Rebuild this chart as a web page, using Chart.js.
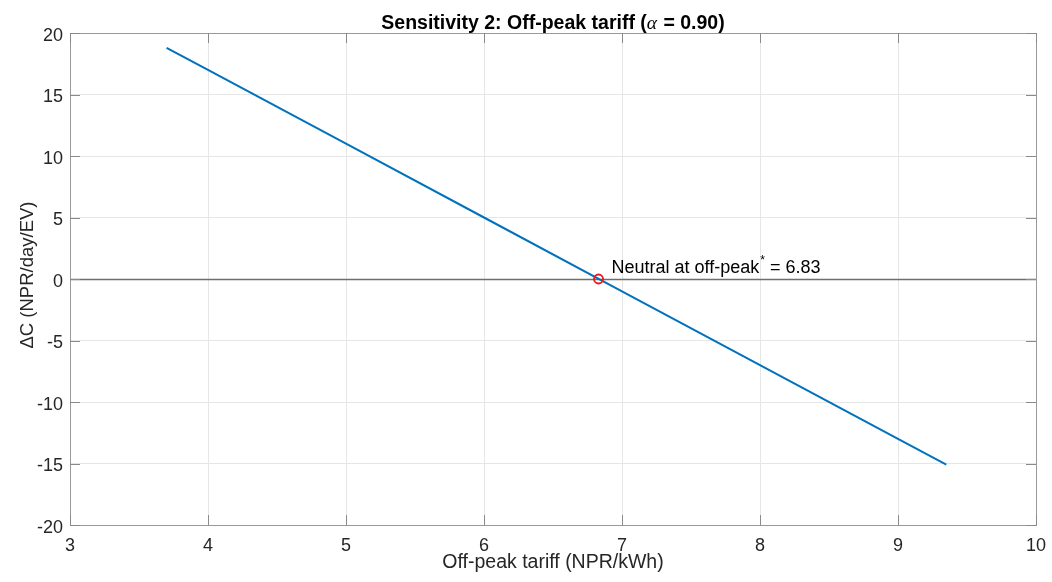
<!DOCTYPE html>
<html><head><meta charset="utf-8">
<script src="https://cdn.jsdelivr.net/npm/chart.js@4"></script>
<style>html,body{margin:0;padding:0;background:#fff;}#wrap{width:1052px;height:582px;}</style>
</head><body><div id="wrap"><canvas id="c" width="1052" height="582"></canvas></div>
<script>
const tariff = [3.7, 4, 5, 6, 7, 8, 9, 9.35];
const deltaC = [18.8, 17.0, 11.0, 5.0, -1.0, -7.0, -13.0, -15.1];
const neutralX = [6.83];
const neutralY = [0];
const xTicks = [3, 4, 5, 6, 7, 8, 9, 10];
const yTicks = [-20, -15, -10, -5, 0, 5, 10, 15, 20];
const titleParts = ['Sensitivity 2: Off-peak tariff (', '\u03b1', ' = 0.90)'];
const xLabel = 'Off-peak tariff (NPR/kWh)';
const yLabel = '\u0394C (NPR/day/EV)';
const annoParts = ['Neutral at off-peak', '*', ' = 6.83'];
const FONT = '"Liberation Sans", Arial, sans-serif';

const deco = {
  id: 'deco',
  beforeDatasetsDraw(chart) {
    const {ctx, chartArea: a, scales: {x, y}} = chart;
    ctx.save();
    ctx.strokeStyle = '#6e6e6e'; ctx.lineWidth = 1.5;
    const y0 = Math.round(y.getPixelForValue(0)) + 0.5;
    ctx.beginPath(); ctx.moveTo(a.left, y0); ctx.lineTo(a.right, y0); ctx.stroke();
    ctx.restore();
  },
  afterDraw(chart) {
    const {ctx, chartArea: a, scales: {x, y}} = chart;
    ctx.save();
    // box
    ctx.strokeStyle = '#999999'; ctx.lineWidth = 1;
    ctx.strokeRect(Math.round(a.left) + 0.5, Math.round(a.top) + 0.5, Math.round(a.right - a.left), Math.round(a.bottom - a.top));
    // inward tick marks
    ctx.strokeStyle = '#8a8a8a';
    ctx.beginPath();
    xTicks.forEach(v => { const px = Math.round(x.getPixelForValue(v)) + 0.5;
      ctx.moveTo(px, a.bottom); ctx.lineTo(px, a.bottom - 10);
      ctx.moveTo(px, a.top); ctx.lineTo(px, a.top + 10); });
    yTicks.forEach(v => { const py = Math.round(y.getPixelForValue(v)) + 0.5;
      ctx.moveTo(a.left, py); ctx.lineTo(a.left + 10, py);
      ctx.moveTo(a.right, py); ctx.lineTo(a.right - 10, py); });
    ctx.stroke();
    // title
    ctx.fillStyle = '#000'; ctx.textBaseline = 'alphabetic'; ctx.textAlign = 'left';
    const fB = 'bold 19.5px ' + FONT, fA = 'italic 19.5px "Liberation Serif", serif';
    ctx.font = fB; const w0 = ctx.measureText(titleParts[0]).width, w2 = ctx.measureText(titleParts[2]).width;
    ctx.font = fA; const w1 = ctx.measureText(titleParts[1]).width + 1;
    let tx = (a.left + a.right) / 2 - (w0 + w1 + w2) / 2;
    ctx.font = fB; ctx.fillText(titleParts[0], tx, 28.5);
    ctx.font = fA; ctx.fillText(titleParts[1], tx + w0, 28.5);
    ctx.font = fB; ctx.fillText(titleParts[2], tx + w0 + w1, 28.5);
    // axis labels
    ctx.fillStyle = '#262626'; ctx.font = '19.5px ' + FONT; ctx.textAlign = 'center';
    ctx.fillText(xLabel, (a.left + a.right) / 2, 567.5);
    ctx.font = '18.5px ' + FONT;
    ctx.save(); ctx.translate(33, 275); ctx.rotate(-Math.PI / 2);
    ctx.fillText(yLabel, 0, 0); ctx.restore();
    // annotation
    const nx = x.getPixelForValue(neutralX[0]) + 13;
    const ny = y.getPixelForValue(neutralY[0]) - 5.8;
    ctx.textAlign = 'left'; ctx.textBaseline = 'alphabetic'; ctx.fillStyle = '#000';
    ctx.font = '18px ' + FONT;
    ctx.fillText(annoParts[0], nx, ny);
    let w = ctx.measureText(annoParts[0]).width;
    ctx.font = '12px ' + FONT;
    ctx.fillText(annoParts[1], nx + w + 1, ny - 9);
    w += ctx.measureText(annoParts[1]).width + 1;
    ctx.font = '18px ' + FONT;
    ctx.fillText(annoParts[2], nx + w, ny);
    ctx.restore();
  }
};

new Chart(document.getElementById('c'), {
  type: 'scatter',
  data: {
    datasets: [
      { data: tariff.map((v, i) => ({x: v, y: deltaC[i]})), showLine: true, borderColor: '#0072BD', borderWidth: 2, pointRadius: 0, order: 2 },
      { data: neutralX.map((v, i) => ({x: v, y: neutralY[i]})), showLine: false, pointRadius: 4.5, pointBorderWidth: 1.8, pointBorderColor: '#e8191c', pointBackgroundColor: 'rgba(0,0,0,0)', order: 1 }
    ]
  },
  options: {
    responsive: false, animation: false, devicePixelRatio: 1,
    layout: { padding: { top: 33, right: 16, left: 0, bottom: 0 } },
    plugins: { legend: { display: false }, tooltip: { enabled: false }, title: { display: false } },
    scales: {
      x: {
        type: 'linear', min: 3, max: 10,
        afterBuildTicks: s => { s.ticks = xTicks.map(v => ({value: v})); },
        afterFit: s => { s.height = 57; s.paddingLeft = 0; s.paddingRight = 0; },
        grid: { color: '#e6e6e6', drawTicks: false },
        border: { display: false },
        ticks: { color: '#262626', font: { family: FONT, size: 18 }, padding: 10, maxRotation: 0 },
        title: { display: false }
      },
      y: {
        type: 'linear', min: -20, max: 20,
        afterBuildTicks: s => { s.ticks = yTicks.map(v => ({value: v})); },
        afterFit: s => { s.width = 70; s.paddingTop = 0; s.paddingBottom = 0; },
        grid: { color: '#e6e6e6', drawTicks: false },
        border: { display: false },
        ticks: { color: '#262626', font: { family: FONT, size: 18 }, padding: 7, labelOffset: 3 },
        title: { display: false }
      }
    }
  },
  plugins: [deco]
});
</script></body></html>
